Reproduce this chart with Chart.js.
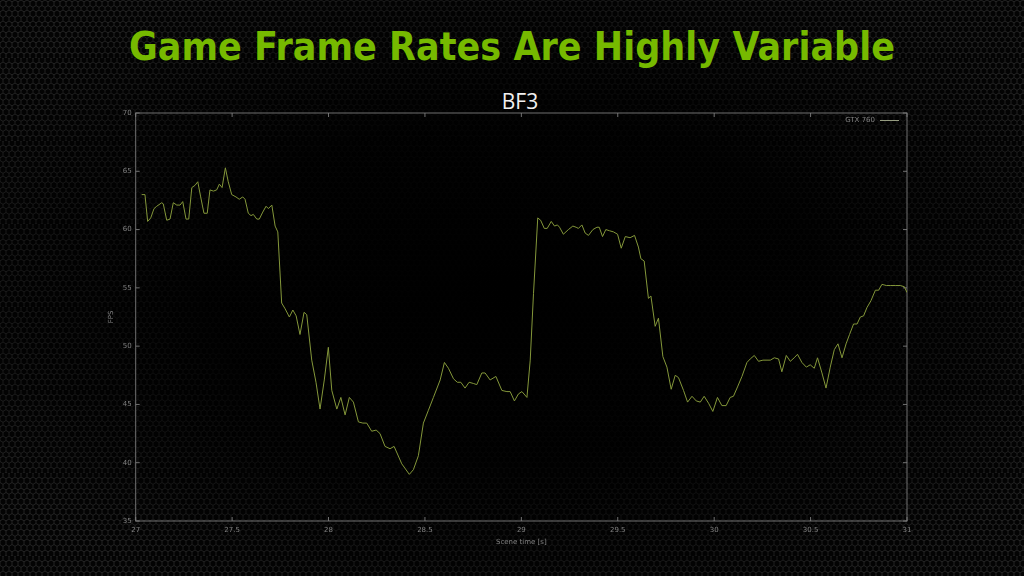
<!DOCTYPE html>
<html>
<head>
<meta charset="utf-8">
<script src="https://cdn.jsdelivr.net/npm/chart.js@4/dist/chart.umd.min.js"></script>
<style>
  html, body { margin: 0; padding: 0; }
  body {
    width: 1024px; height: 576px; overflow: hidden; position: relative;
    background-color: #050505;
    background-image:
      radial-gradient(ellipse 60% 60% at 50% 50%, rgba(0,0,0,1) 0%, rgba(0,0,0,0.9) 50%, rgba(0,0,0,0.3) 100%),
      url("data:image/svg+xml;utf8,<svg xmlns='http://www.w3.org/2000/svg' width='6' height='10.39'><path d='M3 0 L6 1.73 L6 5.2 L3 6.93 L0 5.2 L0 1.73 Z M3 6.93 V10.39' fill='none' stroke='%233a3a3a' stroke-width='0.8'/></svg>");
  }
  #title {
    position: absolute; left: 0; top: 24px; width: 1024px; text-align: center;
    font-family: "DejaVu Sans Condensed", "DejaVu Sans", sans-serif; font-weight: bold;
    font-size: 39px; color: #76b900; margin: 0;
  }
  #sub {
    position: absolute; left: 420px; top: 87px; width: 200px; text-align: center;
    font-family: "Open Sans", sans-serif; font-size: 21px; color: #f0f0f0;
  }
  #wrap { position: absolute; left: 0; top: 0; width: 1024px; height: 576px; }
</style>
</head>
<body>
<h1 id="title">Game Frame Rates Are Highly Variable</h1>
<div id="sub">BF3</div>
<div id="wrap"><canvas id="chart"></canvas></div>
<script>
var times = [
  27.031, 27.048, 27.062, 27.078, 27.095, 27.109, 27.135, 27.143, 27.161, 27.178,
  27.195, 27.213, 27.230, 27.244, 27.261, 27.275, 27.291, 27.308, 27.322, 27.337,
  27.354, 27.371, 27.385, 27.403, 27.420, 27.434, 27.448, 27.465, 27.480, 27.498,
  27.520, 27.537, 27.555, 27.567, 27.584, 27.598, 27.610, 27.628, 27.641, 27.659,
  27.676, 27.688, 27.706, 27.723, 27.737, 27.757, 27.775, 27.797, 27.815, 27.832,
  27.852, 27.873, 27.887, 27.913, 27.935, 27.956, 27.978, 27.999, 28.017, 28.043,
  28.064, 28.086, 28.108, 28.129, 28.155, 28.178, 28.198, 28.224, 28.247, 28.267,
  28.293, 28.319, 28.340, 28.380, 28.419, 28.440, 28.466, 28.492, 28.518, 28.544,
  28.579, 28.601, 28.622, 28.648, 28.668, 28.686, 28.708, 28.729, 28.751, 28.769,
  28.795, 28.812, 28.838, 28.868, 28.899, 28.925, 28.942, 28.964, 28.985, 29.003,
  29.029, 29.046, 29.063, 29.085, 29.100, 29.119, 29.134, 29.155, 29.172, 29.187,
  29.198, 29.218, 29.244, 29.267, 29.284, 29.296, 29.314, 29.331, 29.348, 29.371,
  29.392, 29.404, 29.421, 29.438, 29.457, 29.478, 29.499, 29.518, 29.539, 29.564,
  29.587, 29.607, 29.620, 29.637, 29.659, 29.672, 29.694, 29.711, 29.734, 29.755,
  29.777, 29.798, 29.815, 29.841, 29.862, 29.885, 29.907, 29.928, 29.948, 29.971,
  29.993, 30.017, 30.040, 30.062, 30.083, 30.100, 30.121, 30.144, 30.170, 30.187,
  30.208, 30.230, 30.253, 30.274, 30.291, 30.312, 30.334, 30.351, 30.374, 30.395,
  30.415, 30.432, 30.455, 30.478, 30.498, 30.519, 30.536, 30.559, 30.580, 30.602,
  30.623, 30.642, 30.663, 30.684, 30.702, 30.723, 30.741, 30.758, 30.775, 30.792,
  30.813, 30.836, 30.853, 30.870, 30.893, 30.913, 30.939, 30.965, 30.986, 31.000
];
var fps = [
  63.0, 63.0, 60.7, 61.0, 61.8, 62.0, 62.3, 62.2, 60.8, 60.9,
  62.3, 62.1, 62.1, 62.4, 60.9, 60.9, 63.6, 63.8, 64.1, 62.8,
  61.4, 61.4, 63.4, 63.3, 63.4, 63.9, 63.6, 65.3, 64.1, 63.0,
  62.8, 62.6, 62.8, 62.6, 61.4, 61.2, 61.3, 60.9, 60.9, 61.5,
  62.0, 61.8, 62.1, 60.3, 59.8, 53.7, 53.2, 52.5, 53.1, 52.6,
  51.0, 52.9, 52.7, 48.8, 46.9, 44.6, 47.1, 49.9, 46.2, 44.6,
  45.6, 44.1, 45.6, 45.2, 43.5, 43.4, 43.4, 42.7, 42.8, 42.5,
  41.4, 41.2, 41.4, 39.9, 39.0, 39.4, 40.6, 43.4, 44.5, 45.6,
  47.1, 48.6, 48.1, 47.2, 46.9, 46.9, 46.4, 46.9, 46.8, 46.7,
  47.7, 47.7, 47.1, 47.4, 46.2, 46.1, 46.1, 45.3, 45.9, 46.1,
  45.6, 48.8, 54.5, 61.0, 60.8, 60.1, 60.1, 60.7, 60.3, 60.4,
  60.2, 59.6, 60.0, 60.3, 60.2, 60.1, 60.4, 59.7, 59.5, 60.0,
  60.2, 60.2, 59.4, 60.0, 59.9, 59.8, 59.6, 58.4, 59.4, 59.3,
  59.5, 58.5, 57.5, 57.3, 54.1, 54.3, 51.7, 52.4, 49.1, 48.2,
  46.3, 47.5, 47.3, 46.2, 45.2, 45.7, 45.3, 45.2, 45.7, 45.1,
  44.4, 45.6, 44.9, 44.9, 45.6, 45.7, 46.5, 47.4, 48.6, 48.9,
  49.2, 48.7, 48.8, 48.8, 48.8, 49.0, 48.9, 47.8, 49.2, 48.7,
  49.0, 49.3, 48.6, 48.2, 48.4, 48.1, 49.0, 47.7, 46.4, 48.2,
  49.7, 50.2, 49.0, 50.2, 51.0, 51.9, 51.9, 52.5, 52.6, 53.3,
  53.9, 54.8, 54.8, 55.3, 55.2, 55.2, 55.2, 55.2, 55.1, 54.6
];
var seriesName = "GTX 760";
var xTicks = [27, 27.5, 28, 28.5, 29, 29.5, 30, 30.5, 31];
var yTicks = [35, 40, 45, 50, 55, 60, 65, 70];

var LINE = "#84973a";
var FRAME = "rgba(125,125,125,0.9)";
var LABEL = "#808080";
var tickFont = { family: "DejaVu Sans", size: 7 };

// gnuplot style box with inward ticks + legend inside the plot
var framePlugin = {
  id: "frame",
  beforeDatasetsDraw: function (chart) {
    var ctx = chart.ctx, a = chart.chartArea, x = chart.scales.x, y = chart.scales.y;
    ctx.save();
    ctx.strokeStyle = FRAME;
    ctx.lineWidth = 1;
    ctx.strokeRect(a.left, a.top, a.right - a.left, a.bottom - a.top);
    ctx.beginPath();
    x.ticks.forEach(function (t) {
      var px = x.getPixelForValue(t.value);
      ctx.moveTo(px, a.bottom); ctx.lineTo(px, a.bottom - 4);
      ctx.moveTo(px, a.top); ctx.lineTo(px, a.top + 4);
    });
    y.ticks.forEach(function (t) {
      var py = y.getPixelForValue(t.value);
      ctx.moveTo(a.left, py); ctx.lineTo(a.left + 4, py);
      ctx.moveTo(a.right, py); ctx.lineTo(a.right - 4, py);
    });
    ctx.stroke();
    ctx.restore();
  },
  afterDatasetsDraw: function (chart) {
    var ctx = chart.ctx, a = chart.chartArea;
    var ds = chart.data.datasets[0];
    ctx.save();
    ctx.font = "7px 'DejaVu Sans'";
    ctx.fillStyle = LABEL;
    ctx.textAlign = "right";
    ctx.textBaseline = "middle";
    ctx.fillText(ds.label, a.right - 32, a.top + 7.5);
    ctx.strokeStyle = "#959c80";
    ctx.lineWidth = 1;
    ctx.beginPath();
    ctx.moveTo(a.right - 27, a.top + 7.5);
    ctx.lineTo(a.right - 8, a.top + 7.5);
    ctx.stroke();
    ctx.restore();
  }
};

new Chart("chart", {
  type: "line",
  data: {
    datasets: [{
      label: seriesName,
      data: times.map(function (t, i) { return { x: t, y: fps[i] }; }),
      borderColor: LINE,
      borderWidth: 1,
      pointRadius: 0,
      tension: 0,
      fill: false
    }]
  },
  options: {
    responsive: true,
    maintainAspectRatio: false,
    animation: false,
    layout: { padding: { left: 103, right: 117, top: 113, bottom: 26 } },
    plugins: { legend: { display: false }, tooltip: { enabled: false } },
    scales: {
      x: {
        type: "linear", min: 27, max: 31,
        afterBuildTicks: function (s) { s.ticks = xTicks.map(function (v) { return { value: v }; }); },
        afterFit: function (s) { s.height = 29; },
        grid: { display: false, drawTicks: false },
        border: { display: false },
        ticks: { color: LABEL, font: tickFont, padding: 5, maxRotation: 0,
          callback: function (v) { return String(v); } },
        title: { display: true, text: "Scene time [s]", color: LABEL, font: tickFont, padding: { top: 0, bottom: 4 } }
      },
      y: {
        min: 35, max: 70,
        afterBuildTicks: function (s) { s.ticks = yTicks.map(function (v) { return { value: v }; }); },
        afterFit: function (s) { s.width = 32.7; },
        grid: { display: false, drawTicks: false },
        border: { display: false },
        ticks: { color: LABEL, font: tickFont, padding: 4,
          callback: function (v) { return String(v); } },
        title: { display: true, text: "FPS", color: LABEL, font: tickFont, padding: { top: 4, bottom: 0 } }
      }
    }
  },
  plugins: [framePlugin]
});
</script>
</body>
</html>
